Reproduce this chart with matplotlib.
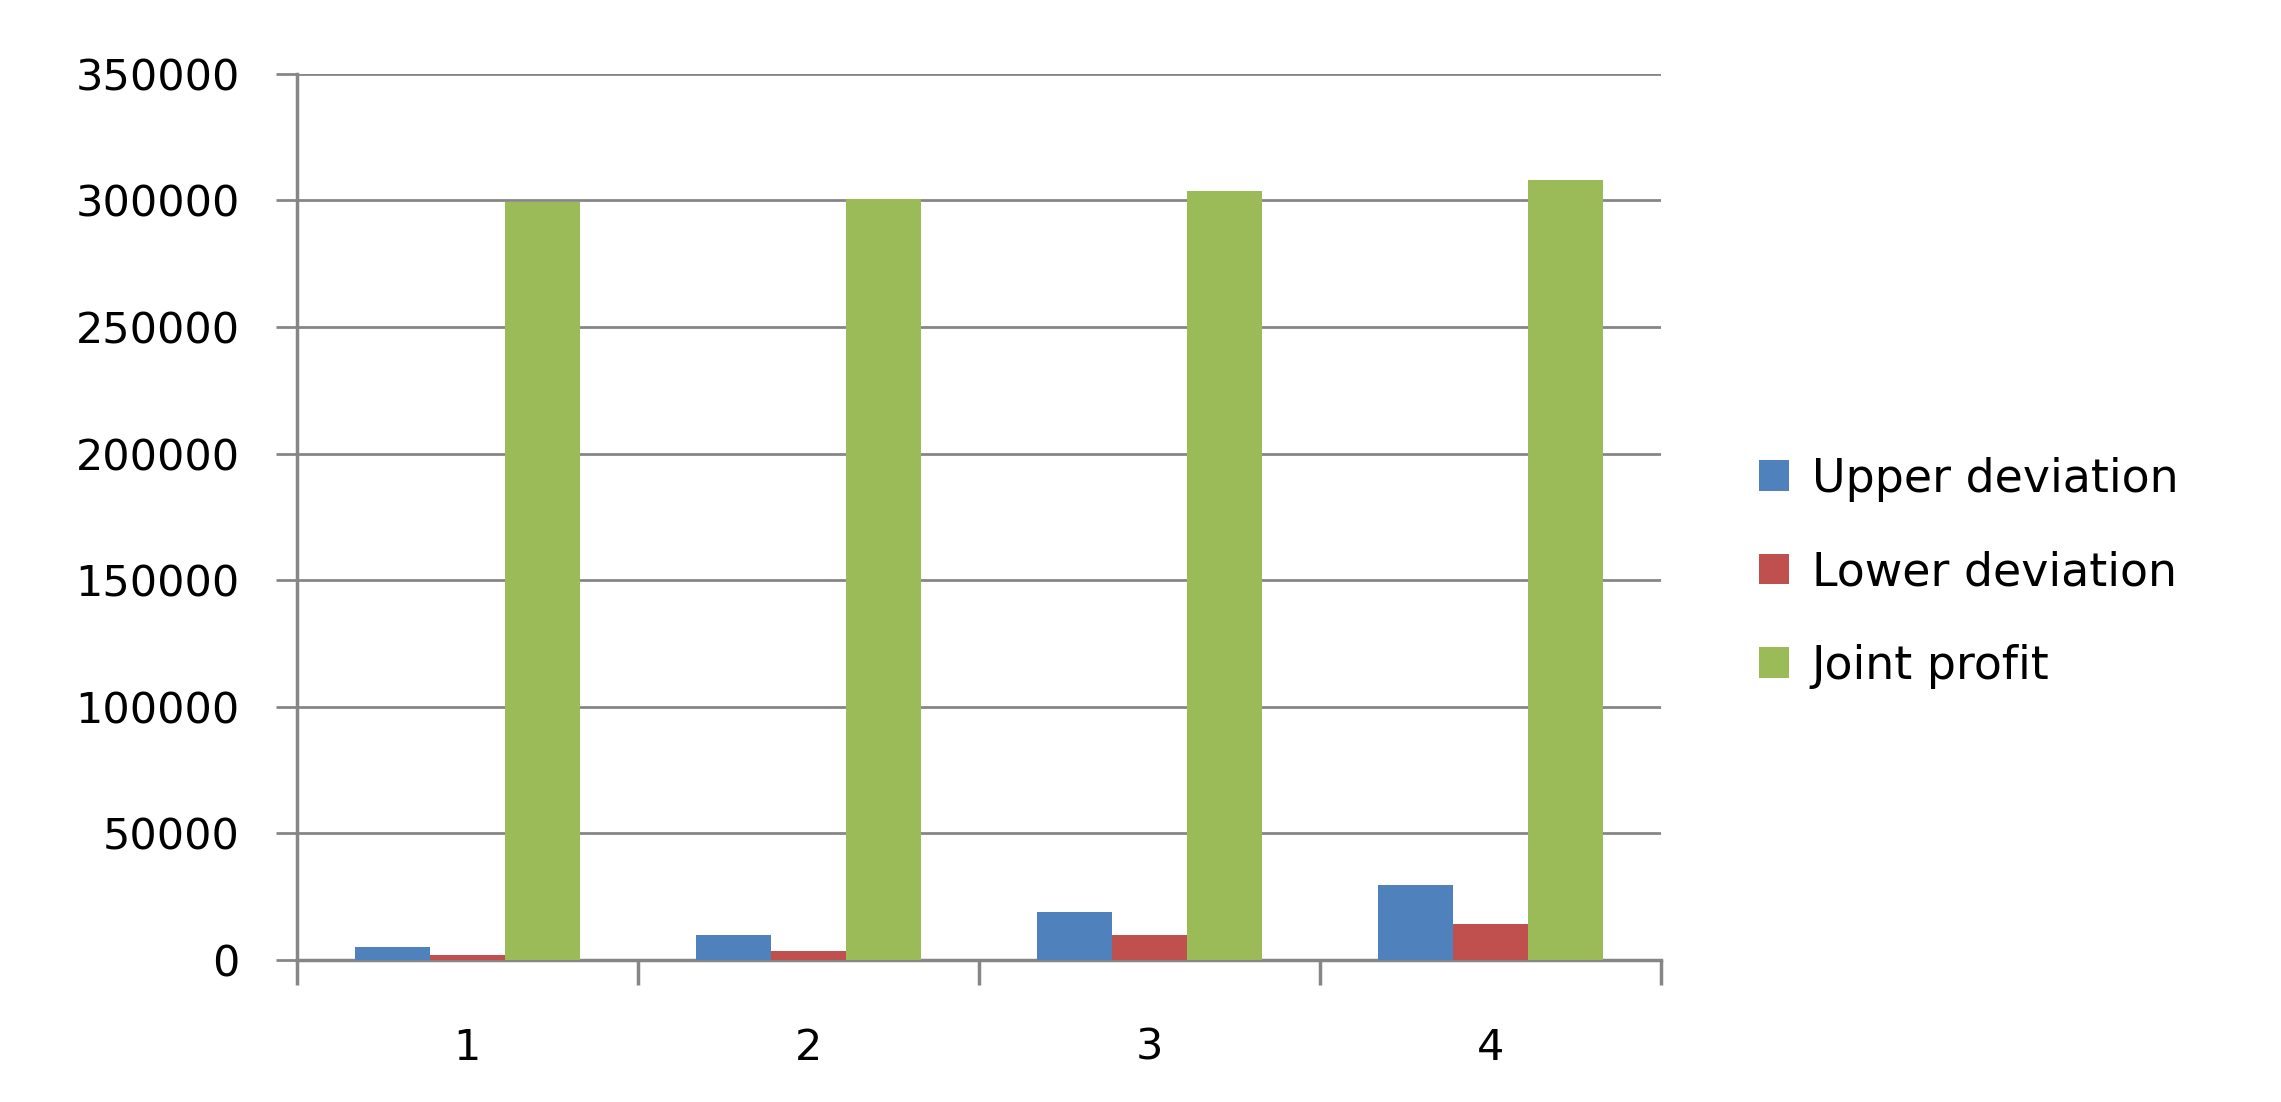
import numpy as np
import matplotlib.pyplot as plt

# --- veriler ---
categories = ['1', '2', '3', '4']
upper_dev = [5000, 10000, 18800, 29500]
lower_dev = [2100, 3500, 9800, 14200]
joint_profit = [299400, 300500, 303700, 308200]
series_names = ['Upper deviation', 'Lower deviation', 'Joint profit']
colors = ['#4F81BD', '#C0504D', '#9BBB59']

grid_c = '#868686'

fig = plt.figure(figsize=(22.81, 11.02), dpi=100)
ax = fig.add_axes([0.130, 0.129, 0.598, 0.804])

x = np.arange(len(categories)) + 0.5
w = 0.22
for i, (vals, name) in enumerate(zip([upper_dev, lower_dev, joint_profit], series_names)):
    ax.bar(x + (i - 1) * w, vals, width=w, color=colors[i], label=name, zorder=3)

ax.set_xlim(0, len(categories))
ax.set_ylim(0, 350000)
ax.set_yticks(np.arange(0, 350001, 50000))
ax.yaxis.grid(True, color=grid_c, linewidth=2.0, zorder=1)
ax.set_axisbelow(True)

# kategori sınırlarında tik, ortada etiket
ax.set_xticks(np.arange(0, len(categories) + 1))
ax.set_xticklabels([])
ax.set_xticks(x, minor=True)
ax.set_xticklabels(categories, minor=True)
ax.tick_params(axis='x', which='major', length=18, width=2.5, color=grid_c)
ax.tick_params(axis='x', which='minor', length=0, pad=48, labelsize=31)
ax.tick_params(axis='y', length=15, width=2.0, color=grid_c, pad=26, labelsize=31)

for s in ['top', 'right']:
    ax.spines[s].set_visible(False)
for s in ['left', 'bottom']:
    ax.spines[s].set_color(grid_c)
    ax.spines[s].set_linewidth(2.5)

leg = ax.legend(loc='center left', bbox_to_anchor=(1.042, 0.437), frameon=False,
                fontsize=33, handlelength=0.65, handleheight=0.65,
                handletextpad=0.5, labelspacing=1.06)

fig.savefig('out.png', dpi=100)
